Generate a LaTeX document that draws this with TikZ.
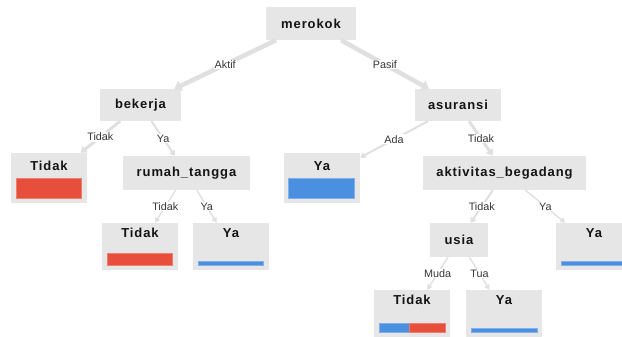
\documentclass[tikz,border=0pt]{standalone}
\usepackage{fontspec}
\setmainfont{Liberation Sans}
\usetikzlibrary{arrows.meta,calc}

\definecolor{boxfill}{HTML}{E6E6E6}
\definecolor{edgecol}{HTML}{E0E0E0}
\definecolor{labcol}{HTML}{363636}
\definecolor{barred}{HTML}{E84E3C}
\definecolor{barredrim}{HTML}{F07E6E}
\definecolor{barblue}{HTML}{4A8FE0}
\definecolor{barbluerim}{HTML}{7FB0EA}

\tikzset{
  boxtext/.style={font={\fontsize{13}{15}\selectfont\bfseries\addfontfeature{LetterSpace=7}}, text=black!92},
  split/.style={boxtext, fill=boxfill, inner sep=0pt},
  leafbox/.style={fill=boxfill, inner sep=0pt, minimum width=76pt},
  leafhi/.style={leafbox, minimum height=50pt},
  leaflo/.style={leafbox, minimum height=47pt},
  title/.style={boxtext, inner sep=0pt},
  elabel/.style={fill=white, inner sep=1pt, text=labcol, font={\fontsize{10.8}{12}\selectfont}},
  edgeA/.style={draw=edgecol, line width=4.5pt, -{Triangle[length=7pt,width=11pt]}},
  edgeB/.style={draw=edgecol, line width=3pt, -{Triangle[length=6pt,width=8pt]}},
  edgeC/.style={draw=edgecol, line width=2pt, -{Triangle[length=5pt,width=6.5pt]}},
  edgeD/.style={draw=edgecol, line width=1.4pt, -{Triangle[length=5pt,width=5.5pt]}},
  redbar/.style={fill=barred, draw=barredrim, line width=0.8pt},
  bluebar/.style={fill=barblue, draw=barbluerim, line width=0.8pt},
}

\begin{document}
\begin{tikzpicture}[x=1pt, y=-1pt]
\useasboundingbox (0,0) rectangle (622,337);
\fill[white] (0,0) rectangle (622,337);
\clip (0,0) rectangle (622,337);

% split nodes
\node[split, minimum width=90pt,  minimum height=33pt] (m)  at (311,23.5)   {merokok};
\node[split, minimum width=81pt,  minimum height=32pt] (bk) at (140.5,105)  {bekerja};
\node[split, minimum width=86pt,  minimum height=32pt] (as) at (458,105)    {asuransi};
\node[split, minimum width=127pt, minimum height=34pt] (rt) at (186.5,173)  {rumah\_tangga};
\node[split, minimum width=163pt, minimum height=34pt] (ak) at (504.5,173)  {aktivitas\_begadang};
\node[split, minimum width=58pt,  minimum height=34pt] (us) at (459,240)    {usia};

% leaf boxes
\node[leafhi] (l1) at (49,178)    {};
\node[leafhi] (l2) at (322,178)   {};
\node[leaflo] (l3) at (140,246.5) {};
\node[leaflo] (l4) at (231,246.5) {};
\node[leaflo] (l5) at (594,246.5) {};
\node[leaflo] (l6) at (412,313.5) {};
\node[leaflo] (l7) at (504,313.5) {};

% leaf titles
\node[title] (t1) at ($(l1.north)+(0,13)$) {Tidak};
\node[title] (t2) at ($(l2.north)+(0,13)$) {Ya};
\node[title] (t3) at ($(l3.north)+(0,10)$) {Tidak};
\node[title] (t4) at ($(l4.north)+(0,10)$) {Ya};
\node[title] (t5) at ($(l5.north)+(0,10)$) {Ya};
\node[title] (t6) at ($(l6.north)+(0,10.5)$) {Tidak};
\node[title] (t7) at ($(l7.north)+(0,10.5)$) {Ya};

% class bars
\path[redbar]  (16,178) rectangle (81,198);
\path[bluebar] (288,178) rectangle (354,198);
\path[redbar]  (107,253) rectangle (172,265);
\path[bluebar] (198,261.5) rectangle (263,265);
\path[bluebar] (561,261.5) rectangle (627,265);
\path[bluebar] (379,323.5) rectangle (409,332);
\path[redbar]  (409,323.5) rectangle (445,332);
\path[bluebar] (471,328.5) rectangle (537,332);

% connectors
\draw[edgeA] (m)  -- node[elabel] {Aktif} (bk);
\draw[edgeA] (m)  -- node[elabel] {Pasif} (as);
\draw[edgeB] (bk) -- node[elabel] {Tidak} (l1);
\draw[edgeC] (bk) -- node[elabel] {Ya}    (rt);
\draw[edgeC] (as) -- node[elabel] {Ada}   (l2);
\draw[edgeB] (as) -- node[elabel] {Tidak} (ak);
\draw[edgeD] (rt) -- node[elabel] {Tidak} (l3);
\draw[edgeD] (rt) -- node[elabel] {Ya}    (l4);
\draw[edgeC] (ak) -- node[elabel] {Tidak} (us);
\draw[edgeD] (ak) -- node[elabel] {Ya}    (l5);
\draw[edgeD] (us) -- node[elabel] {Muda}  (l6);
\draw[edgeD] (us) -- node[elabel] {Tua}   (l7);
\end{tikzpicture}
\end{document}
